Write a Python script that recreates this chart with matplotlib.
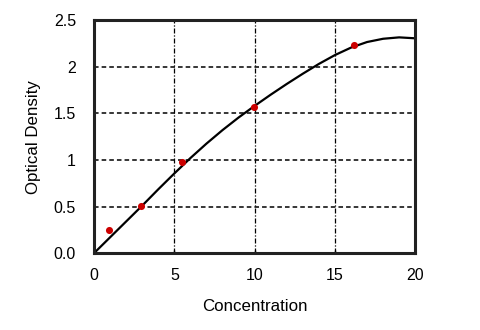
import matplotlib
matplotlib.use("Agg")
import numpy as np
from matplotlib import pyplot as plt

plt.rcParams['font.family'] = ['Liberation Sans', 'DejaVu Sans']

# fitted standard curve, read at unit steps
curve_x = [0, 1, 2, 3, 4, 5, 6, 7, 8, 9, 10, 11, 12, 13, 14, 15, 16, 17, 18, 19, 20]
curve_y = [0.0, 0.17, 0.34, 0.51, 0.685, 0.855, 1.02, 1.175, 1.32, 1.455, 1.58,
           1.70, 1.815, 1.925, 2.03, 2.125, 2.205, 2.265, 2.30, 2.315, 2.305]

# measured standards
conc = [0.9, 2.9, 5.5, 9.95, 16.2]
od = [0.25, 0.51, 0.98, 1.57, 2.23]

x_ticks = [0, 5, 10, 15, 20]
y_ticks = [0, 0.5, 1, 1.5, 2, 2.5]
y_tick_labels = ['0.0', '0.5', '1', '1.5', '2', '2.5']

fig = plt.figure(figsize=(4.8, 3.3), dpi=100)
ax = fig.add_axes([0.196, 0.233, 0.669, 0.706])

ax.set_xlim(0, 20)
ax.set_ylim(0, 2.5)

# grid: horizontal dashed, vertical dash-dot
for yv in y_ticks[1:-1]:
    ax.axhline(yv, color='black', lw=1.1, ls=(0, (3, 2)), zorder=1)
for xv in x_ticks[1:-1]:
    ax.axvline(xv, color='black', lw=0.9, ls=(0, (4, 1.5, 1, 1.5)), zorder=1)

ax.plot(curve_x, curve_y, color='black', lw=1.6, zorder=2,
        solid_capstyle='round', solid_joinstyle='round')
ax.scatter(conc, od, s=26, color='#cc0000', zorder=3, linewidths=0)

ax.set_xticks(x_ticks)
ax.set_yticks(y_ticks)
ax.set_yticklabels(y_tick_labels)
ax.tick_params(axis='x', direction='in', length=2, width=1, pad=11, labelsize=11.5, colors='black')
ax.tick_params(axis='y', length=0, pad=13, labelsize=11.5, colors='black')

for spine in ax.spines.values():
    spine.set_linewidth(2.2)
    spine.set_color('#222222')

ax.set_xlabel('Concentration', fontsize=12.2, labelpad=11, color='black')
ax.set_ylabel('Optical Density', fontsize=12.2, labelpad=9, color='black')

fig.savefig('out.png', dpi=100)
